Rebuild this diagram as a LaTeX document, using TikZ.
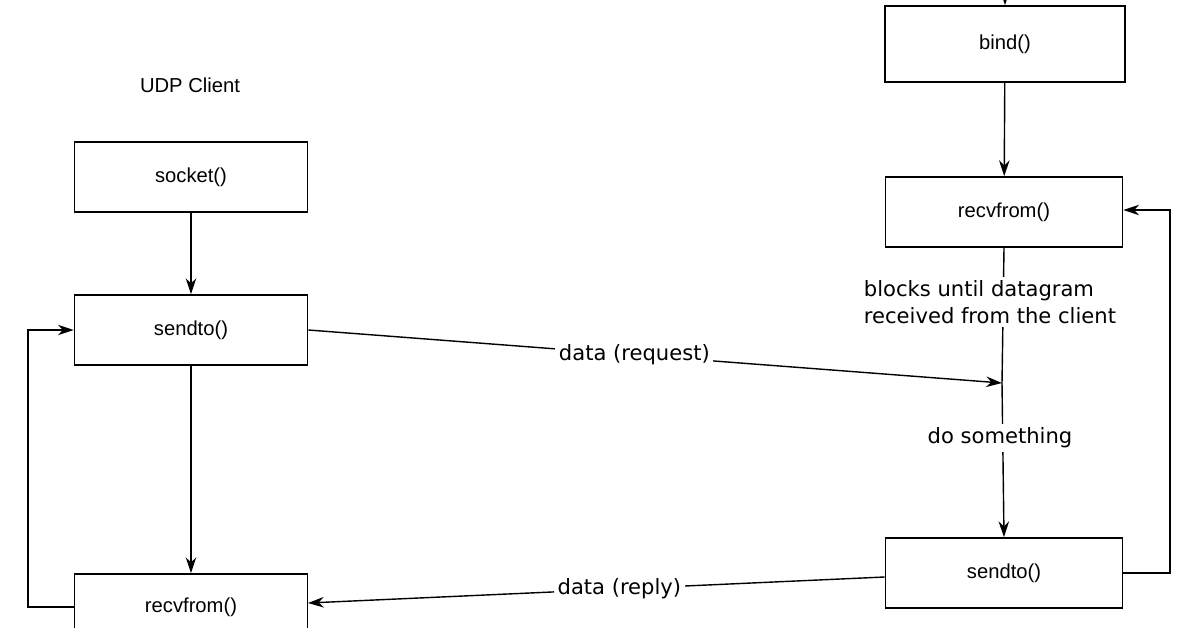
\documentclass[tikz,border=0pt]{standalone}
\usepackage{fontspec}
\setmainfont{Liberation Sans}
\newfontfamily\lab{DejaVu Sans}
\usetikzlibrary{arrows.meta}
\begin{document}
\begin{tikzpicture}[x=0.02cm,y=-0.02cm,
  box/.style={draw,line width=1pt,fill=white,minimum width=233*0.02cm,minimum height=70*0.02cm,font=\fontsize{11.5}{13}\selectfont,inner sep=0},
  arr/.style={line width=0.8pt,-{Stealth[length=9pt,width=6pt]}},
  ln/.style={line width=0.8pt},
  lbl/.style={font=\lab\fontsize{12}{15.5}\selectfont,fill=white,inner sep=2pt,align=center}]
\useasboundingbox (0,0) rectangle (1196,628);
\node[box,minimum width=240*0.02cm,minimum height=76*0.02cm] (bind) at (1005,44) {bind()};
\node[box,minimum width=237*0.02cm] (srecv) at (1004,212) {recvfrom()};
\node[box,minimum width=237*0.02cm] (ssend) at (1004,573) {sendto()};
\node[box] (sock) at (191,177) {socket()};
\node[box] (csend) at (191,330) {sendto()};
\node[box,minimum height=66*0.02cm] (crecv) at (191,607) {recvfrom()};
\node[font=\fontsize{11.5}{13}\selectfont] (title) at (190,85) {UDP Client};
\coordinate (top) at (1005,-2);
\coordinate (hit) at (1002,383);
\coordinate (r1) at (1170,573); \coordinate (r2) at (1170,210);
\coordinate (l1) at (28,607); \coordinate (l2) at (28,330);
\draw[arr] (top) -- (bind.north);
\draw[arr] (bind) -- (srecv);
\draw[ln] (srecv.south) -- (hit);
\draw[arr] (hit) -- (ssend.north);
\node[lbl,align=left] (blk) at (990,302) {blocks until datagram\\received from the client};
\node[lbl] (dos) at (1000,438) {do something};
\draw[arr] (sock) -- (csend);
\draw[arr] (csend) -- (crecv);
\draw[arr] (ssend.east) -- (r1) -- (r2) -- (srecv.east |- r2);
\draw[arr] (crecv.west) -- (l1) -- (l2) -- (csend.west);
\draw[arr] (csend.east) -- node[lbl,pos=0.47] (dreq) {data (request)} (hit);
\draw[arr] (ssend.west) ++(0,4) -- node[lbl,pos=0.46] (drep) {data (reply)} (308,603);
\end{tikzpicture}
\end{document}
